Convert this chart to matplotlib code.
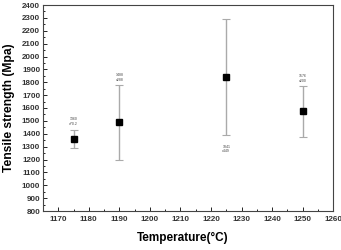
import numpy as np
import matplotlib
matplotlib.use("Agg")
import matplotlib.pyplot as plt
from matplotlib.ticker import MultipleLocator

# data
temps = [1175, 1190, 1225, 1250]
means = [1360, 1488, 1841, 1576]
errs_lo = [70, 288, 449, 200]
errs_hi = [72, 288, 449, 198]
labels = ["1360\n\u00b170.2", "1488\n\u00b1288", "1841\n\u00b1449", "1576\n\u00b1200"]
label_y = [1495, 1835, 1280, 1830]

plt.rcParams['font.family'] = ['Liberation Sans', 'DejaVu Sans']

fig = plt.figure(figsize=(3.41, 2.5), dpi=100)
ax = fig.add_axes([0.126, 0.156, 0.851, 0.824])

ax.errorbar(temps, means, yerr=[errs_lo, errs_hi], fmt='none', ecolor='#aaaaaa',
            elinewidth=1.0, capsize=3, capthick=0.8, zorder=1)
ax.plot(temps, means, 's', color='black', markersize=4, zorder=2)

for t, ly, s in zip(temps, label_y, labels):
    ax.text(t, ly, s, fontsize=2.5, ha='center', va='center', color='#444444',
            linespacing=1.2)

ax.set_xlim(1165, 1260)
ax.set_ylim(800, 2400)
ax.xaxis.set_major_locator(MultipleLocator(10))
ax.xaxis.set_minor_locator(MultipleLocator(5))
ax.yaxis.set_major_locator(MultipleLocator(100))
ax.yaxis.set_minor_locator(MultipleLocator(50))
ax.tick_params(which='both', direction='in', labelsize=5.8, width=0.6)
ax.tick_params(which='major', length=3)
ax.tick_params(which='minor', length=1.5)
ax.tick_params(axis='y', pad=2)
for lab in ax.get_xticklabels() + ax.get_yticklabels():
    lab.set_fontweight('bold')
    lab.set_color('#333333')
for sp in ax.spines.values():
    sp.set_linewidth(0.8)
    sp.set_color('#444444')

ax.set_xlabel("Temperature(\u00b0C)", fontsize=8.5, fontweight='bold', labelpad=2)
ax.set_ylabel("Tensile strength (Mpa)", fontsize=8.7, fontweight='bold', labelpad=5)
ax.xaxis.set_label_coords(0.48, -0.1)

fig.savefig("out.png", dpi=100)
